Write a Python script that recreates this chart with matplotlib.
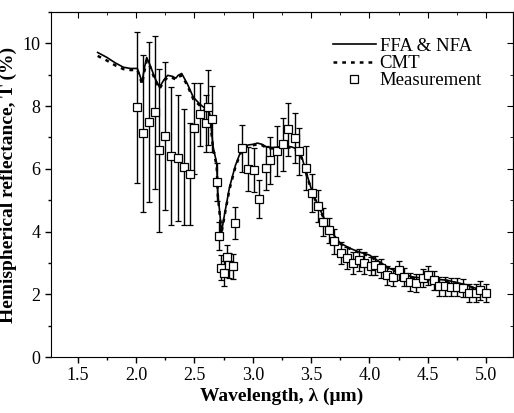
import matplotlib
matplotlib.use("Agg")
import matplotlib.pyplot as plt
from matplotlib.lines import Line2D
from matplotlib.ticker import MultipleLocator

# FFA & NFA model curve (solid)
ffa_x = [1.67, 1.75, 1.82, 1.89, 1.95, 2.01, 2.03, 2.05, 2.07, 2.09, 2.12, 2.16,
         2.20, 2.24, 2.27, 2.31, 2.34, 2.36, 2.39, 2.44, 2.49, 2.55, 2.59, 2.63,
         2.66, 2.69, 2.70, 2.72, 2.73, 2.76, 2.80, 2.85, 2.91, 2.96, 3.00, 3.04,
         3.08, 3.12, 3.17, 3.21, 3.25, 3.29, 3.33, 3.36, 3.39, 3.42, 3.46, 3.51,
         3.57, 3.66, 3.75, 3.83, 3.91, 4.00, 4.10, 4.17, 4.27, 4.37, 4.50, 4.66,
         4.83, 5.00]
ffa_y = [9.71, 9.55, 9.38, 9.24, 9.20, 9.20, 9.00, 8.76, 9.20, 9.55, 9.30, 8.90,
         8.60, 8.85, 8.98, 8.95, 8.89, 8.98, 9.04, 8.70, 8.28, 8.05, 7.93, 7.77,
         6.69, 6.18, 5.22, 4.46, 3.95, 4.60, 5.41, 6.10, 6.69, 6.76, 6.78, 6.82,
         6.78, 6.69, 6.68, 6.69, 6.71, 6.72, 6.70, 6.66, 6.55, 6.37, 5.86, 5.25,
         4.75, 4.04, 3.63, 3.47, 3.35, 3.25, 3.00, 2.83, 2.68, 2.55, 2.50, 2.45,
         2.30, 2.07]

# CMT curve (dotted)
cmt_x = ffa_x
cmt_y = [9.60, 9.45, 9.30, 9.18, 9.15, 9.15, 8.95, 8.70, 9.10, 9.45, 9.25, 8.85,
         8.55, 8.80, 8.92, 8.90, 8.85, 8.92, 8.98, 8.65, 8.22, 8.00, 7.88, 7.70,
         6.60, 6.10, 5.15, 4.40, 3.92, 4.55, 5.35, 6.05, 6.65, 6.72, 6.75, 6.78,
         6.75, 6.66, 6.65, 6.66, 6.68, 6.69, 6.67, 6.63, 6.52, 6.33, 5.82, 5.22,
         4.72, 4.02, 3.61, 3.45, 3.33, 3.22, 2.98, 2.81, 2.66, 2.53, 2.48, 2.43,
         2.28, 2.05]

# Measurement
meas_x = [2.01, 2.06, 2.11, 2.16, 2.20, 2.25, 2.30, 2.36, 2.41, 2.46, 2.50, 2.55,
          2.60, 2.62, 2.65, 2.69, 2.71, 2.73, 2.75, 2.78, 2.80, 2.83, 2.85, 2.91,
          2.96, 3.01, 3.05, 3.11, 3.15, 3.21, 3.26, 3.30, 3.36, 3.40, 3.46, 3.51,
          3.56, 3.60, 3.65, 3.70, 3.76, 3.81, 3.86, 3.91, 3.95, 4.01, 4.05, 4.10,
          4.15, 4.20, 4.25, 4.30, 4.35, 4.40, 4.46, 4.50, 4.55, 4.60, 4.65, 4.70,
          4.75, 4.80, 4.85, 4.91, 4.95, 5.00]
meas_y = [7.96, 7.13, 7.48, 7.80, 6.59, 7.04, 6.40, 6.34, 6.05, 5.83, 7.29, 7.74,
          7.45, 7.96, 7.58, 5.57, 3.85, 2.84, 2.67, 3.18, 2.93, 2.90, 4.27, 6.66,
          5.99, 5.96, 5.03, 6.02, 6.27, 6.56, 6.78, 7.26, 6.97, 6.56, 6.02, 5.22,
          4.81, 4.30, 4.04, 3.69, 3.31, 3.15, 3.00, 3.09, 3.00, 2.90, 2.93, 2.83,
          2.61, 2.55, 2.77, 2.55, 2.39, 2.36, 2.52, 2.61, 2.45, 2.26, 2.26, 2.23,
          2.23, 2.20, 2.04, 2.04, 2.13, 2.04]
meas_err = [2.40, 2.50, 2.55, 2.45, 2.60, 2.35, 2.20, 2.00, 1.85, 1.63, 1.45, 1.00,
            0.90, 1.20, 1.05, 0.60, 0.45, 0.40, 0.40, 0.40, 0.40, 0.40, 0.50, 0.75,
            0.70, 0.70, 0.60, 0.70, 0.75, 0.80, 0.85, 0.85, 0.80, 0.75, 0.70, 0.60,
            0.50, 0.45, 0.40, 0.40, 0.35, 0.35, 0.35, 0.35, 0.35, 0.30, 0.30, 0.30,
            0.30, 0.30, 0.30, 0.30, 0.30, 0.30, 0.30, 0.30, 0.30, 0.30, 0.30, 0.30,
            0.30, 0.30, 0.30, 0.30, 0.30, 0.30]

plt.rcParams["font.family"] = ["Liberation Serif", "DejaVu Serif"]

fig = plt.figure(figsize=(5.14, 4.13), dpi=100)
ax = fig.add_axes([51 / 514, 1 - 357 / 413, 462 / 514, 345 / 413])

ax.plot(ffa_x, ffa_y, color="black", linewidth=1.2)
ax.plot(cmt_x, cmt_y, color="black", linewidth=1.8, linestyle=(0, (1.5, 2)))
ax.errorbar(meas_x, meas_y, yerr=meas_err, fmt="s", color="black", markersize=5.5,
            markerfacecolor="white", markeredgecolor="black", markeredgewidth=0.9,
            elinewidth=1.0, capsize=2.5, capthick=1.2)

ax.set_xlim(1.27, 5.23)
ax.set_ylim(0, 11)
ax.xaxis.set_major_locator(MultipleLocator(0.5))
ax.xaxis.set_minor_locator(MultipleLocator(0.25))
ax.yaxis.set_major_locator(MultipleLocator(2))
ax.yaxis.set_minor_locator(MultipleLocator(1))
ax.xaxis.set_major_formatter(plt.FormatStrFormatter("%.1f"))
ax.tick_params(which="both", direction="out", labelsize=13, width=1)
ax.tick_params(which="major", length=4)
ax.tick_params(which="minor", length=2)

# mirrored inward ticks on top and right
top = ax.secondary_xaxis("top")
top.xaxis.set_major_locator(MultipleLocator(0.5))
top.xaxis.set_minor_locator(MultipleLocator(0.25))
top.tick_params(which="both", direction="in", labeltop=False)
top.tick_params(which="major", length=4)
top.tick_params(which="minor", length=2)
right = ax.secondary_yaxis("right")
right.yaxis.set_major_locator(MultipleLocator(2))
right.yaxis.set_minor_locator(MultipleLocator(1))
right.tick_params(which="both", direction="in", labelright=False)
right.tick_params(which="major", length=4)
right.tick_params(which="minor", length=2)

ax.set_xlabel("Wavelength, λ (μm)", fontsize=14, fontweight="bold", labelpad=2)
ax.set_ylabel("Hemispherical reflectance, T (%)", fontsize=14, fontweight="bold", labelpad=4)

handles = [
    Line2D([], [], color="black", linewidth=1.2),
    Line2D([], [], color="black", linewidth=1.8, linestyle=(0, (1.5, 2))),
    Line2D([], [], linestyle="none", marker="s", markersize=5.5,
           markerfacecolor="white", markeredgecolor="black", markeredgewidth=0.9),
]
labels = ["FFA & NFA", "CMT", "Measurement"]
ax.legend(handles, labels, loc="upper left", bbox_to_anchor=(0.61, 0.925),
          frameon=False, fontsize=13.5, handlelength=2.3, handletextpad=0.2,
          labelspacing=0.0, borderpad=0, borderaxespad=0)

fig.savefig("out.png", dpi=100)
